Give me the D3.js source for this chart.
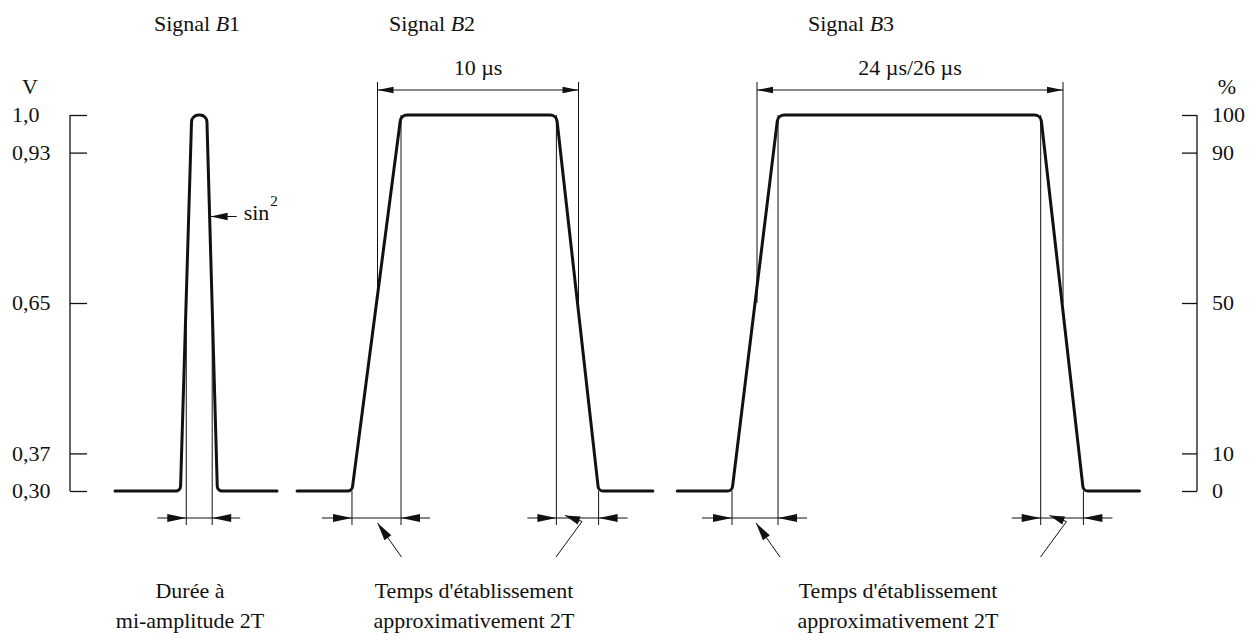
<!DOCTYPE html>
<html>
<head>
<meta charset="utf-8">
<script src="https://cdn.jsdelivr.net/npm/d3@7"></script>
<style>
  html, body { margin: 0; padding: 0; background: #fff; }
  svg { display: block; }
</style>
</head>
<body>
<svg id="chart" width="1259" height="640" font-family="'Liberation Serif', 'Times New Roman', Times, 'DejaVu Serif', serif" font-size="22"></svg>
<script>
// ---- Axis ticks ----
const voltTicks = [0.30, 0.37, 0.65, 0.93, 1.0];
const voltTickLabels = ["0,30", "0,37", "0,65", "0,93", "1,0"];
const percentTicks = [0, 10, 50, 90, 100];
const percentTickLabels = ["0", "10", "50", "90", "100"];

// ---- Signal B1: sin² pulse (time in T) ----
const b1Time = [-6.5, -1.45, -0.58, 0.58, 1.4, 6.0];
const b1Level = [0.30, 0.30, 1.0, 1.0, 0.30, 0.30];
const b1HalfAmplitude = [-1, 1];

// ---- Signal B2: 10 µs bar (time in µs, drawn schematically) ----
const b2Time = [-4.0, -1.27, 1.17, 8.9, 11.0, 13.7];
const b2Level = [0.30, 0.30, 1.0, 1.0, 0.30, 0.30];
const b2Duration = [0, 10];

// ---- Signal B3: 24 µs/26 µs bar (time in µs, drawn schematically) ----
const b3Time = [-6.25, -1.96, 1.65, 22.25, 25.6, 30.0];
const b3Level = [0.30, 0.30, 1.0, 1.0, 0.30, 0.30];
const b3Duration = [0, 24];

const signalNames = ["B1", "B2", "B3"];
const durationLabels = ["10 µs", "24 µs/26 µs"];
const captions = [
  ["Durée à", "mi-amplitude 2T"],
  ["Temps d'établissement", "approximativement 2T"],
  ["Temps d'établissement", "approximativement 2T"]
];

// ---- Layout ----
const svg = d3.select("#chart");
const yTop = 115, yBottom = 491;
const y = d3.scaleLinear().domain([0.30, 1.0]).range([yBottom, yTop]);
const yPct = d3.scaleLinear().domain([0, 100]).range([yBottom, yTop]);

const xB1 = d3.scaleLinear().domain([-6.5, 6.0]).range([115, 277]);
const xB2 = d3.scaleLinear().domain([0, 10]).range([377.5, 578.5]);
const xB3 = d3.scaleLinear().domain([0, 24]).range([757, 1063]);

const dimY = 518;      // lower dimension lines
const dimTopY = 90;    // upper duration dimension
const extBottom = 525; // extension lines end
const extTop = 82;

const ink = "#111";

// filled arrowhead with tip at (tx, ty), pointing away from (fx, fy)
function arrowHead(g, tx, ty, fx, fy, len, hw) {
  const dx = tx - fx, dy = ty - fy;
  const d = Math.hypot(dx, dy);
  const ux = dx / d, uy = dy / d;
  const bx = tx - ux * len, by = ty - uy * len;
  const pts = [[tx, ty], [bx - uy * hw, by + ux * hw], [bx + uy * hw, by - ux * hw]];
  g.append("path")
    .attr("d", "M" + pts.map(p => p.join(",")).join("L") + "Z")
    .attr("fill", ink);
}

function arrow(g, fx, fy, tx, ty, len, hw) {
  g.append("line").attr("x1", fx).attr("y1", fy).attr("x2", tx).attr("y2", ty)
    .attr("stroke", ink).attr("stroke-width", 1);
  arrowHead(g, tx, ty, fx, fy, len, hw);
}

function thin(g, x1, y1, x2, y2) {
  g.append("line").attr("x1", x1).attr("y1", y1).attr("x2", x2).attr("y2", y2)
    .attr("stroke", ink).attr("stroke-width", 1);
}

// polyline with rounded joints
function roundedPath(pts, radii) {
  const p = d3.path();
  p.moveTo(pts[0][0], pts[0][1]);
  for (let i = 1; i < pts.length - 1; i++) {
    p.arcTo(pts[i][0], pts[i][1], pts[i + 1][0], pts[i + 1][1], radii[i]);
  }
  const last = pts[pts.length - 1];
  p.lineTo(last[0], last[1]);
  return p.toString();
}

const cornerRadii = [0, 5, 7, 7, 5, 0];

// ---- Left axis (V) ----
const leftAxis = svg.append("g").attr("transform", "translate(70,0)");
leftAxis.call(d3.axisRight(y).tickValues(voltTicks).tickSize(17).tickFormat("").tickSizeOuter(0));
leftAxis.attr("font-family", null).attr("font-size", null);
leftAxis.select(".domain").attr("d", `M0,${yTop}V${yBottom}`).attr("stroke", ink).attr("stroke-width", 1.3);
leftAxis.selectAll(".tick line").attr("stroke", ink).attr("stroke-width", 1.3);
svg.append("g").selectAll("text").data(voltTicks).join("text")
  .attr("x", 12).attr("y", d => y(d)).attr("dy", "0.33em").attr("fill", ink)
  .text((d, i) => voltTickLabels[i]);
svg.append("text").attr("x", 30).attr("y", 94).attr("text-anchor", "middle").attr("fill", ink).text("V");

// ---- Right axis (%) ----
const rightAxis = svg.append("g").attr("transform", "translate(1197,0)");
rightAxis.call(d3.axisLeft(yPct).tickValues(percentTicks).tickSize(15).tickFormat("").tickSizeOuter(0));
rightAxis.attr("font-family", null).attr("font-size", null);
rightAxis.select(".domain").attr("d", `M0,${yTop}V${yBottom}`).attr("stroke", ink).attr("stroke-width", 1.3);
rightAxis.selectAll(".tick line").attr("stroke", ink).attr("stroke-width", 1.3);
svg.append("g").selectAll("text").data(percentTicks).join("text")
  .attr("x", 1212).attr("y", d => yPct(d)).attr("dy", "0.33em").attr("fill", ink)
  .text((d, i) => percentTickLabels[i]);
svg.append("text").attr("x", 1227).attr("y", 94).attr("text-anchor", "middle").attr("fill", ink).text("%");

// ---- Signal traces ----
const signals = [
  { time: b1Time, level: b1Level, x: xB1 },
  { time: b2Time, level: b2Level, x: xB2 },
  { time: b3Time, level: b3Level, x: xB3 }
];
const traces = svg.append("g");
signals.forEach(s => {
  const pts = s.time.map((t, i) => [s.x(t), y(s.level[i])]);
  traces.append("path")
    .attr("d", roundedPath(pts, cornerRadii))
    .attr("fill", "none").attr("stroke", ink).attr("stroke-width", 3)
    .attr("stroke-linecap", "round").attr("stroke-linejoin", "round");
});

const dims = svg.append("g");

// ---- B1: half-amplitude duration ----
{
  const xa = xB1(b1HalfAmplitude[0]), xb = xB1(b1HalfAmplitude[1]);
  thin(dims, xa, y(0.67), xa, extBottom);
  thin(dims, xb, y(0.67), xb, extBottom);
  thin(dims, xa, dimY, xb, dimY);
  arrow(dims, xa - 29, dimY, xa, dimY, 19, 4);
  arrow(dims, xb + 28, dimY, xb, dimY, 19, 4);
  // sin² marker
  const yMark = 216.5;
  const frac = (y.invert(yMark) - 0.30) / 0.70;
  const xEdge = xB1(b1Time[3] + (b1Time[4] - b1Time[3]) * (1 - frac));
  arrow(dims, xEdge + 27, yMark, xEdge + 1, yMark, 17, 3.8);
  const t = svg.append("text").attr("x", xEdge + 34).attr("y", 220).attr("fill", ink);
  t.append("tspan").text("sin");
  t.append("tspan").attr("font-size", 15).attr("dy", -14).attr("dx", 1).text("2");
}

// ---- B2 / B3: durations and rise/fall times ----
[
  { time: b2Time, x: xB2, dur: b2Duration, label: durationLabels[0] },
  { time: b3Time, x: xB3, dur: b3Duration, label: durationLabels[1] }
].forEach(s => {
  const x = s.x;
  // duration (50 % to 50 %)
  const xl = x(s.dur[0]), xr = x(s.dur[1]);
  thin(dims, xl, extTop, xl, y(0.65));
  thin(dims, xr, extTop, xr, y(0.65));
  thin(dims, xl, dimTopY, xr, dimTopY);
  arrowHead(dims, xl, dimTopY, xr, dimTopY, 16, 3.3);
  arrowHead(dims, xr, dimTopY, xl, dimTopY, 16, 3.3);
  svg.append("text").attr("x", (xl + xr) / 2).attr("y", 75).attr("fill", ink)
    .attr("text-anchor", "middle").text(s.label);

  // rise and fall extension lines
  const riseFoot = x(s.time[1]), riseTop = x(s.time[2]);
  const fallTop = x(s.time[3]), fallFoot = x(s.time[4]);
  thin(dims, riseFoot, y(0.30), riseFoot, extBottom);
  thin(dims, riseTop, y(1.0), riseTop, extBottom);
  thin(dims, fallTop, y(1.0), fallTop, extBottom);
  thin(dims, fallFoot, y(0.30), fallFoot, extBottom);

  // rise time dimension
  thin(dims, riseFoot, dimY, riseTop, dimY);
  arrow(dims, riseFoot - 30, dimY, riseFoot, dimY, 19, 4);
  arrow(dims, riseTop + 29, dimY, riseTop, dimY, 19, 4);
  // fall time dimension
  thin(dims, fallTop, dimY, fallFoot, dimY);
  arrow(dims, fallTop - 29, dimY, fallTop, dimY, 19, 4);
  arrow(dims, fallFoot + 29, dimY, fallFoot, dimY, 19, 4);

  // leaders
  const riseMid = (riseFoot + riseTop) / 2;
  arrow(dims, riseMid + 25, 557, riseMid + 1, 523, 18, 4.2);
  const fallMid = (fallTop + fallFoot) / 2;
  const kx = fallMid + 4.5, ky = 521.5;
  thin(dims, fallMid - 21.5, 557, kx, ky);
  arrow(dims, kx, ky, fallMid - 12.5, 515.5, 15, 4.2);
});

// ---- Titles ----
const titleX = [197, 432, 851];
signalNames.forEach((n, i) => {
  const t = svg.append("text").attr("x", titleX[i]).attr("y", 31).attr("text-anchor", "middle").attr("fill", ink);
  t.append("tspan").text("Signal ");
  t.append("tspan").attr("font-style", "italic").text(n[0]);
  t.append("tspan").text(n.slice(1));
});

// ---- Captions ----
const captionX = [190, 474, 898];
captions.forEach((lines, i) => {
  lines.forEach((line, j) => {
    svg.append("text").attr("x", captionX[i]).attr("y", 598 + j * 30).attr("fill", ink)
      .attr("text-anchor", "middle").text(line);
  });
});
</script>
</body>
</html>
